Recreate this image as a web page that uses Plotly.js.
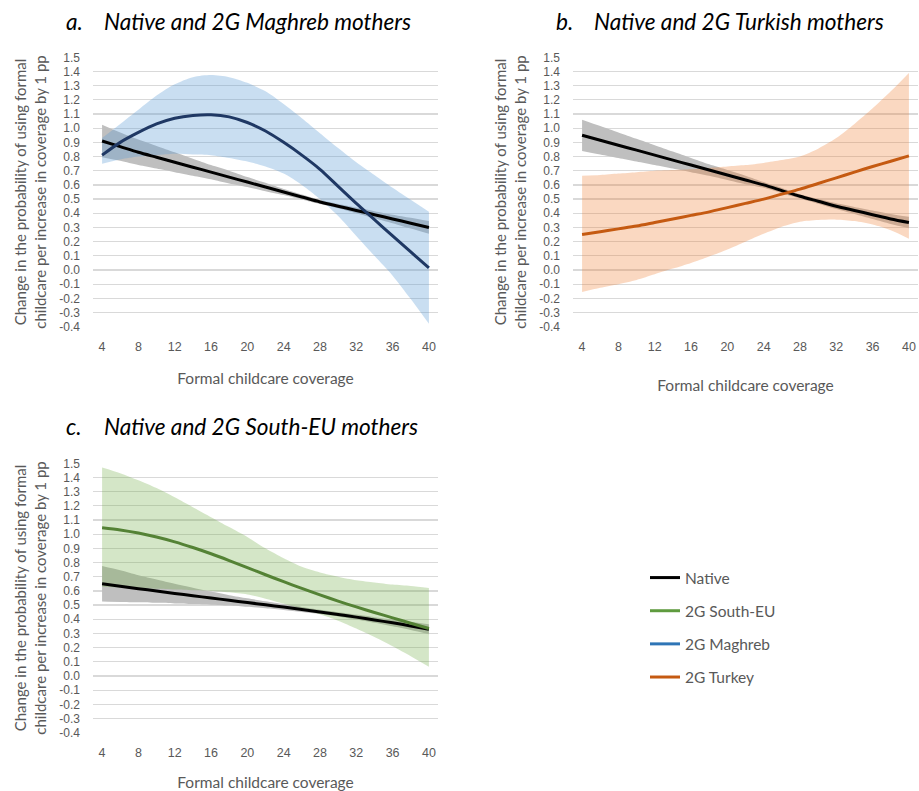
<!DOCTYPE html>
<html>
<head>
<meta charset="utf-8">
<script src="https://cdn.plot.ly/plotly-3.0.1.min.js"></script>
<style>html,body{margin:0;padding:0;background:#fff;}#chart{width:919px;height:791px;}</style>
</head>
<body>
<div id="chart"></div>
<script>
// ---- Data ----
const coverage = [4,6,8,10,12,14,16,18,20,22,24,26,28,30,32,34,36,38,40];
const xTicks = [4,8,12,16,20,24,28,32,36,40];
const yTickVals = [-0.4,-0.3,-0.2,-0.1,0,0.1,0.2,0.3,0.4,0.5,0.6,0.7,0.8,0.9,1.0,1.1,1.2,1.3,1.4,1.5];
const yTickLabels = ["-0.4","-0.3","-0.2","-0.1","0.0","0.1","0.2","0.3","0.4","0.5","0.6","0.7","0.8","0.9","1.0","1.1","1.2","1.3","1.4","1.5"];

// Panel a: Native vs 2G Maghreb
const nativeA      = [0.91,0.87,0.83,0.795,0.76,0.725,0.69,0.655,0.62,0.585,0.55,0.515,0.48,0.45,0.42,0.39,0.36,0.33,0.30];
const nativeA_up   = [1.025,0.97,0.92,0.875,0.83,0.785,0.74,0.70,0.655,0.615,0.572,0.533,0.495,0.465,0.44,0.415,0.39,0.368,0.345];
const nativeA_lo   = [0.795,0.77,0.74,0.715,0.69,0.665,0.64,0.61,0.585,0.555,0.528,0.497,0.465,0.435,0.40,0.365,0.33,0.292,0.255];
const maghreb      = [0.81,0.90,0.97,1.03,1.07,1.09,1.095,1.08,1.04,0.98,0.90,0.81,0.71,0.59,0.47,0.355,0.24,0.127,0.015];
const maghreb_up   = [0.93,1.03,1.13,1.23,1.31,1.36,1.375,1.36,1.32,1.26,1.17,1.07,0.965,0.86,0.76,0.67,0.58,0.495,0.41];
const maghreb_lo   = [0.75,0.78,0.80,0.81,0.82,0.815,0.81,0.79,0.765,0.73,0.68,0.60,0.50,0.38,0.24,0.10,-0.04,-0.205,-0.38];

// Panel b: Native vs 2G Turkish
const nativeB      = [0.95,0.915,0.88,0.845,0.81,0.775,0.74,0.705,0.67,0.635,0.60,0.56,0.52,0.485,0.45,0.42,0.39,0.36,0.335];
const nativeB_up   = [1.06,1.015,0.97,0.925,0.88,0.835,0.79,0.745,0.705,0.665,0.62,0.578,0.535,0.502,0.47,0.445,0.42,0.395,0.375];
const nativeB_lo   = [0.84,0.815,0.79,0.765,0.74,0.715,0.69,0.665,0.635,0.605,0.58,0.542,0.505,0.468,0.43,0.395,0.36,0.325,0.295];
const turkey       = [0.25,0.27,0.29,0.31,0.335,0.36,0.385,0.41,0.44,0.47,0.50,0.535,0.57,0.61,0.65,0.69,0.73,0.767,0.805];
const turkey_up    = [0.665,0.67,0.68,0.69,0.70,0.705,0.71,0.72,0.73,0.74,0.755,0.775,0.80,0.855,0.93,1.03,1.14,1.26,1.39];
const turkey_lo    = [-0.155,-0.125,-0.10,-0.07,-0.03,0.01,0.05,0.095,0.145,0.20,0.255,0.305,0.34,0.352,0.355,0.345,0.32,0.28,0.22];

// Panel c: Native vs 2G South-EU
const nativeC      = [0.65,0.633,0.616,0.599,0.582,0.566,0.55,0.534,0.518,0.502,0.486,0.469,0.452,0.434,0.415,0.395,0.375,0.353,0.33];
const nativeC_up   = [0.775,0.745,0.71,0.68,0.65,0.622,0.595,0.57,0.548,0.527,0.507,0.487,0.467,0.45,0.433,0.415,0.398,0.38,0.365];
const nativeC_lo   = [0.525,0.522,0.52,0.516,0.512,0.508,0.503,0.497,0.488,0.477,0.465,0.451,0.437,0.42,0.398,0.375,0.35,0.325,0.295];
const southEU      = [1.045,1.03,1.008,0.98,0.946,0.906,0.862,0.814,0.764,0.714,0.665,0.618,0.572,0.528,0.487,0.448,0.41,0.372,0.335];
const southEU_up   = [1.47,1.43,1.38,1.325,1.26,1.19,1.12,1.05,0.98,0.90,0.83,0.77,0.73,0.70,0.675,0.66,0.645,0.635,0.62];
const southEU_lo   = [0.63,0.625,0.62,0.615,0.61,0.605,0.60,0.59,0.575,0.545,0.51,0.475,0.435,0.39,0.335,0.275,0.21,0.14,0.065];

const legendNames  = ["Native","2G South-EU","2G Maghreb","2G Turkey"];
const legendColors = ["#000000","#5f9b3f","#2e75b6","#c55a11"];

// ---- Styles ----
const FONT = "Lato, 'Open Sans', sans-serif";
const TICKFONT = "'Liberation Sans', Arial, sans-serif";
const GREY_BAND = "#bfbfbf";
const traces = [];

function band(lo, up, color, xa, ya) {
  traces.push({x: coverage, y: lo, xaxis: xa, yaxis: ya, mode: "lines", line: {width: 0, shape: "spline", smoothing: 0.8}, hoverinfo: "skip", showlegend: false});
  traces.push({x: coverage, y: up, xaxis: xa, yaxis: ya, mode: "lines", line: {width: 0, shape: "spline", smoothing: 0.8}, fill: "tonexty", fillcolor: color, hoverinfo: "skip", showlegend: false});
}
function line(y, color, xa, ya, name) {
  traces.push({x: coverage, y: y, xaxis: xa, yaxis: ya, mode: "lines", name: name, line: {color: color, width: 3, shape: "spline", smoothing: 0.8}, showlegend: false});
}

// Panel a
band(nativeA_lo, nativeA_up, GREY_BAND, "x", "y");
band(maghreb_lo, maghreb_up, "rgba(91,155,213,0.33)", "x", "y");
line(nativeA, "#000000", "x", "y", "Native");
line(maghreb, "#1f3864", "x", "y", "2G Maghreb");
// Panel b
band(nativeB_lo, nativeB_up, GREY_BAND, "x2", "y2");
band(turkey_lo, turkey_up, "rgba(237,125,49,0.3)", "x2", "y2");
line(nativeB, "#000000", "x2", "y2", "Native");
line(turkey, "#c55a11", "x2", "y2", "2G Turkey");
// Panel c
band(nativeC_lo, nativeC_up, GREY_BAND, "x3", "y3");
band(southEU_lo, southEU_up, "rgba(112,173,71,0.3)", "x3", "y3");
line(nativeC, "#000000", "x3", "y3", "Native");
line(southEU, "#548235", "x3", "y3", "2G South-EU");

// Legend entries
legendNames.forEach((n, i) => {
  traces.push({x: [null], y: [null], xaxis: "x3", yaxis: "y3", mode: "lines", name: n,
    line: {color: legendColors[i], width: 3}, legendgroup: "g" + i, showlegend: true});
});

const W = 919, H = 791;
function px(v) { return v / W; }
function py(v) { return 1 - v / H; }

function xaxis(l, r, anchor, standoff) {
  return {domain: [px(l), px(r)], range: [3, 41], anchor: anchor, tickvals: xTicks, ticktext: xTicks.map(String),
    showgrid: false, zeroline: false, showline: false, ticks: "", ticklabelstandoff: 11,
    tickfont: {family: TICKFONT, size: 12.5, color: "#595959"},
    title: {text: "Formal childcare coverage", font: {family: FONT, size: 15.5, color: "#595959"}, standoff: standoff}};
}
function yaxis(t, b, anchor) {
  return {domain: [py(b), py(t)], range: [-0.4, 1.5], anchor: anchor, tickvals: yTickVals, ticktext: yTickLabels,
    showgrid: true, gridcolor: "#d9d9d9", gridwidth: 1.3, zeroline: false, showline: false, ticks: "", ticklabelstandoff: 12,
    tickfont: {family: TICKFONT, size: 12, color: "#595959"},
    title: {text: "Change in the probability of using formal<br>childcare per increase in coverage by 1 pp",
      font: {family: FONT, size: 15, color: "#595959"}, standoff: 9}};
}

const titleFont = {family: FONT, size: 22.6, color: "#000000", style: "italic"};
const layout = {
  width: W, height: H,
  margin: {l: 0, r: 0, t: 0, b: 0},
  paper_bgcolor: "#ffffff", plot_bgcolor: "#ffffff",
  font: {family: FONT},
  xaxis: xaxis(93, 438, "y", 19),
  yaxis: yaxis(57.3, 326.7, "x"),
  xaxis2: xaxis(573, 918, "y2", 26),
  yaxis2: yaxis(57.3, 326.7, "x2"),
  xaxis3: xaxis(93, 438, "y3", 19),
  yaxis3: yaxis(463.3, 732.7, "x3"),
  showlegend: true,
  legend: {x: px(645), y: py(561), xanchor: "left", yanchor: "top", traceorder: "grouped", tracegroupgap: 10,
    font: {family: FONT, size: 15.5, color: "#595959"}, bgcolor: "rgba(0,0,0,0)"},
  annotations: [
    {text: "a.", x: px(64), y: py(21), xref: "paper", yref: "paper", xanchor: "left", yanchor: "middle", showarrow: false, font: titleFont},
    {text: "Native and 2G Maghreb mothers", x: px(102), y: py(21), xref: "paper", yref: "paper", xanchor: "left", yanchor: "middle", showarrow: false, font: titleFont},
    {text: "b.", x: px(554), y: py(21), xref: "paper", yref: "paper", xanchor: "left", yanchor: "middle", showarrow: false, font: titleFont},
    {text: "Native and 2G Turkish mothers", x: px(592), y: py(21), xref: "paper", yref: "paper", xanchor: "left", yanchor: "middle", showarrow: false, font: titleFont},
    {text: "c.", x: px(64), y: py(427), xref: "paper", yref: "paper", xanchor: "left", yanchor: "middle", showarrow: false, font: titleFont},
    {text: "Native and 2G South-EU mothers", x: px(102), y: py(427), xref: "paper", yref: "paper", xanchor: "left", yanchor: "middle", showarrow: false, font: titleFont}
  ]
};

Plotly.newPlot("chart", traces, layout, {staticPlot: true, displayModeBar: false});
</script>
</body>
</html>
